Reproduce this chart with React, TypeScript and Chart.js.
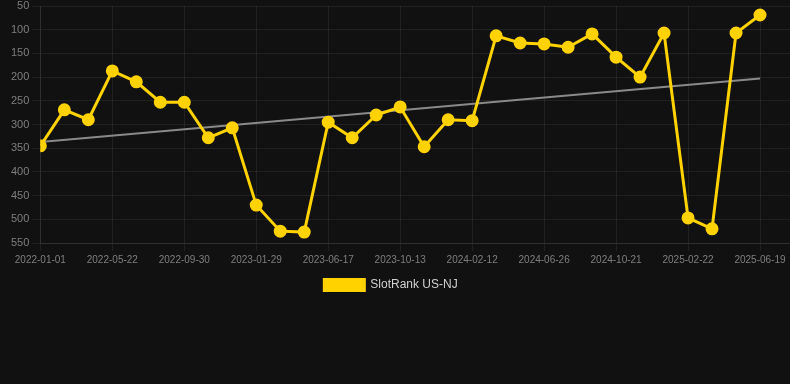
import React, { useEffect, useRef } from "react";
import { Chart, registerables } from "chart.js";

Chart.register(...registerables);

const dateLabels: string[] = [
  "2022-01-01", "2022-02-17", "2022-04-05", "2022-05-22", "2022-07-08", "2022-08-19",
  "2022-09-30", "2022-11-10", "2022-12-20", "2023-01-29", "2023-03-16", "2023-05-02",
  "2023-06-17", "2023-07-26", "2023-09-04", "2023-10-13", "2023-11-24", "2024-01-02",
  "2024-02-12", "2024-03-28", "2024-05-12", "2024-06-26", "2024-08-04", "2024-09-12",
  "2024-10-21", "2024-12-02", "2025-01-12", "2025-02-22", "2025-04-01", "2025-05-10",
  "2025-06-19",
];

const rankValues: number[] = [
  345, 269, 290, 187, 210, 253, 253, 328, 307, 470, 525, 527, 295, 328, 280, 263,
  347, 290, 292, 113, 128, 130, 137, 109, 158, 200, 107, 497, 520, 107, 69,
];

const trendStart = 337;
const trendEnd = 203;

const yTicks = { min: 50, max: 550, step: 50 };

export default function App() {
  const ref = useRef<HTMLCanvasElement | null>(null);

  useEffect(() => {
    document.body.style.margin = "0";
    const ctx = ref.current;
    if (!ctx) return;
    const last = dateLabels.length - 1;
    const legendShift = {
      id: "legendShift",
      afterLayout(c: any) {
        if (c.legend) {
          c.legend.left -= 8;
          c.legend.right -= 8;
        }
      },
    };
    const chart = new Chart(ctx, {
      type: "line",
      plugins: [legendShift],
      data: {
        datasets: [
          {
            label: "SlotRank US-NJ",
            data: rankValues.map((v, i) => ({ x: i, y: v })),
            borderColor: "#FFD200",
            backgroundColor: "#FFD200",
            borderWidth: 3,
            pointRadius: 5,
            pointHoverRadius: 6,
            pointBackgroundColor: "#FFD200",
            pointBorderColor: "#FFD200",
            tension: 0,
          },
          {
            label: "trend",
            data: [
              { x: 0, y: trendStart },
              { x: last, y: trendEnd },
            ],
            borderColor: "#8a8a8a",
            backgroundColor: "#8a8a8a",
            borderWidth: 2,
            pointRadius: 0,
          },
        ],
      },
      options: {
        animation: false,
        responsive: false,
        maintainAspectRatio: false,
        layout: { autoPadding: false, padding: { left: 8, right: 0, top: 0, bottom: 0 } },
        scales: {
          x: {
            type: "linear",
            min: 0,
            max: 31.25,
            afterFit: (s: any) => {
              s.paddingLeft = 0;
              s.paddingRight = 0;
            },
            grid: { color: "rgba(255,255,255,0.07)", tickLength: 8 },
            border: { color: "rgba(255,255,255,0.07)" },
            ticks: {
              stepSize: 3,
              includeBounds: false,
              autoSkip: false,
              maxRotation: 0,
              color: "#7f7f7f",
              font: { family: "'Liberation Sans', Arial, sans-serif", size: 10 },
              callback: (v: any) =>
                Number.isInteger(v) && dateLabels[v] ? dateLabels[v] : "",
            },
          },
          y: {
            reverse: true,
            min: yTicks.min,
            max: yTicks.max,
            afterFit: (s: any) => {
              s.paddingTop = 6;
            },
            grid: { color: "rgba(255,255,255,0.07)", tickLength: 8 },
            border: { color: "rgba(255,255,255,0.07)" },
            ticks: {
              stepSize: yTicks.step,
              color: "#7f7f7f",
              font: { family: "'Liberation Sans', Arial, sans-serif", size: 11 },
            },
          },
        },
        plugins: {
          legend: {
            position: "bottom",
            labels: {
              color: "#d0d0d0",
              boxWidth: 40,
              boxHeight: 11,
              font: { family: "'Liberation Sans', Arial, sans-serif", size: 12 },
              filter: (item: any) => item.text !== "trend",
            },
          },
          tooltip: { enabled: false },
        },
      },
    });
    return () => chart.destroy();
  }, []);

  return (
    <div style={{ width: 790, height: 384, background: "#111111" }}>
      <canvas ref={ref} width={790} height={301} style={{ display: "block" }} />
    </div>
  );
}
